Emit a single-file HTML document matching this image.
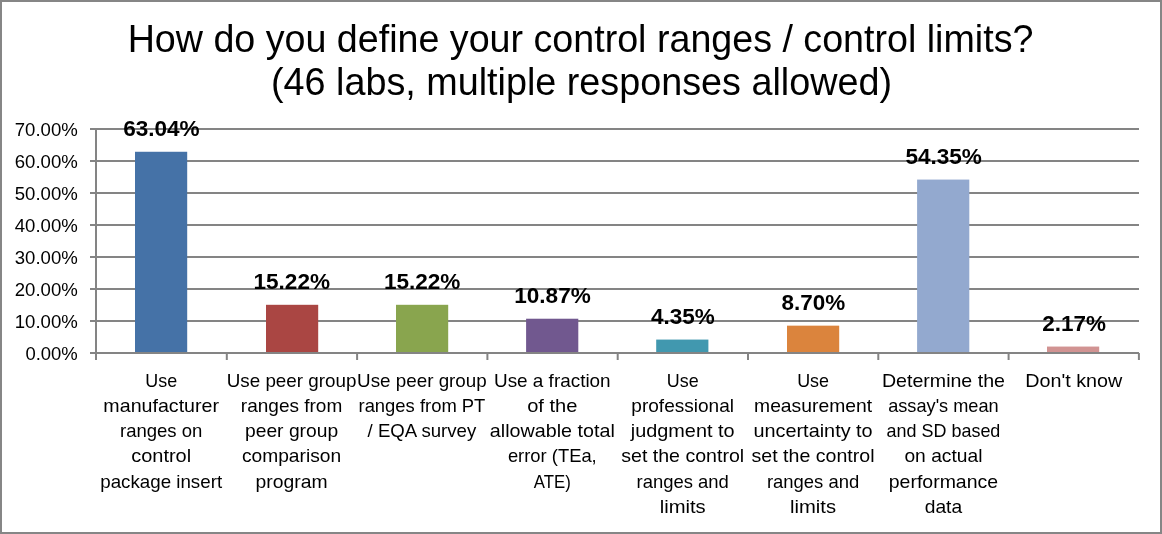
<!DOCTYPE html>
<html lang="en"><head><meta charset="utf-8"><title>How do you define your control ranges / control limits?</title>
<style>
html,body{margin:0;padding:0;background:#fff;}
body{width:1162px;height:534px;overflow:hidden;}
svg{display:block;}
text{font-family:"Liberation Sans",sans-serif;fill:#000;}
.t{font-size:39.6px;}
.a{font-size:18.5px;}
.c{font-size:18.5px;}
.d{font-size:22.8px;font-weight:bold;}
</style></head><body>
<svg width="1162" height="534" viewBox="0 0 1162 534">
<rect x="0" y="0" width="1162" height="534" fill="#fff"/>
<rect x="1" y="1" width="1160" height="532" fill="none" stroke="#868686" stroke-width="2"/>
<text class="t" x="127.7" y="52.4" textLength="905.7" lengthAdjust="spacingAndGlyphs">How do you define your control ranges / control limits?</text>
<text class="t" x="271.0" y="95.2" textLength="621.0" lengthAdjust="spacingAndGlyphs">(46 labs, multiple responses allowed)</text>
<g stroke="#848484" stroke-width="2" fill="none">
<line x1="90" y1="321" x2="1139" y2="321"/>
<line x1="90" y1="289" x2="1139" y2="289"/>
<line x1="90" y1="257" x2="1139" y2="257"/>
<line x1="90" y1="225" x2="1139" y2="225"/>
<line x1="90" y1="193" x2="1139" y2="193"/>
<line x1="90" y1="161" x2="1139" y2="161"/>
<line x1="90" y1="129" x2="1139" y2="129"/>
</g>
<rect x="135.00" y="151.77" width="52.20" height="201.73" fill="#4572A7"/>
<rect x="266.00" y="304.80" width="52.20" height="48.70" fill="#AA4643"/>
<rect x="396.00" y="304.80" width="52.20" height="48.70" fill="#89A54E"/>
<rect x="526.10" y="318.72" width="52.20" height="34.78" fill="#71588F"/>
<rect x="656.20" y="339.58" width="52.20" height="13.92" fill="#4198AF"/>
<rect x="787.00" y="325.66" width="52.20" height="27.84" fill="#DB843D"/>
<rect x="917.10" y="179.58" width="52.20" height="173.92" fill="#93A9CF"/>
<rect x="1047.00" y="346.56" width="52.20" height="6.94" fill="#D19392"/>
<g stroke="#848484" stroke-width="2" fill="none">
<line x1="96" y1="128" x2="96" y2="360"/>
<line x1="90" y1="353" x2="1139" y2="353"/>
<line x1="226.80" y1="353" x2="226.80" y2="360"/>
<line x1="357.10" y1="353" x2="357.10" y2="360"/>
<line x1="487.40" y1="353" x2="487.40" y2="360"/>
<line x1="617.70" y1="353" x2="617.70" y2="360"/>
<line x1="748.00" y1="353" x2="748.00" y2="360"/>
<line x1="878.30" y1="353" x2="878.30" y2="360"/>
<line x1="1008.60" y1="353" x2="1008.60" y2="360"/>
<line x1="1138.90" y1="353" x2="1138.90" y2="360"/>
</g>
<text class="a" x="25.43" y="359.60" textLength="52.37" lengthAdjust="spacingAndGlyphs">0.00%</text>
<text class="a" x="14.76" y="327.60" textLength="63.04" lengthAdjust="spacingAndGlyphs">10.00%</text>
<text class="a" x="14.76" y="295.60" textLength="63.04" lengthAdjust="spacingAndGlyphs">20.00%</text>
<text class="a" x="14.76" y="263.60" textLength="63.04" lengthAdjust="spacingAndGlyphs">30.00%</text>
<text class="a" x="14.76" y="231.60" textLength="63.04" lengthAdjust="spacingAndGlyphs">40.00%</text>
<text class="a" x="14.76" y="199.60" textLength="63.04" lengthAdjust="spacingAndGlyphs">50.00%</text>
<text class="a" x="14.76" y="167.60" textLength="63.04" lengthAdjust="spacingAndGlyphs">60.00%</text>
<text class="a" x="14.76" y="135.60" textLength="63.04" lengthAdjust="spacingAndGlyphs">70.00%</text>
<text class="d" x="123.14" y="135.97" textLength="76.49" lengthAdjust="spacingAndGlyphs">63.04%</text>
<text class="d" x="253.52" y="289.00" textLength="76.49" lengthAdjust="spacingAndGlyphs">15.22%</text>
<text class="d" x="383.89" y="289.00" textLength="76.49" lengthAdjust="spacingAndGlyphs">15.22%</text>
<text class="d" x="514.27" y="302.92" textLength="76.49" lengthAdjust="spacingAndGlyphs">10.87%</text>
<text class="d" x="651.05" y="323.78" textLength="63.67" lengthAdjust="spacingAndGlyphs">4.35%</text>
<text class="d" x="781.43" y="309.86" textLength="63.67" lengthAdjust="spacingAndGlyphs">8.70%</text>
<text class="d" x="905.39" y="163.78" textLength="76.49" lengthAdjust="spacingAndGlyphs">54.35%</text>
<text class="d" x="1042.18" y="330.76" textLength="63.67" lengthAdjust="spacingAndGlyphs">2.17%</text>
<text class="c" x="145.27" y="386.50" textLength="31.83" lengthAdjust="spacingAndGlyphs">Use</text>
<text class="c" x="103.38" y="411.80" textLength="115.61" lengthAdjust="spacingAndGlyphs">manufacturer</text>
<text class="c" x="119.98" y="437.10" textLength="82.42" lengthAdjust="spacingAndGlyphs">ranges on</text>
<text class="c" x="131.21" y="462.40" textLength="59.95" lengthAdjust="spacingAndGlyphs">control</text>
<text class="c" x="100.28" y="487.70" textLength="121.82" lengthAdjust="spacingAndGlyphs">package insert</text>
<text class="c" x="226.74" y="386.50" textLength="129.65" lengthAdjust="spacingAndGlyphs">Use peer group</text>
<text class="c" x="240.88" y="411.80" textLength="101.37" lengthAdjust="spacingAndGlyphs">ranges from</text>
<text class="c" x="245.01" y="437.10" textLength="93.11" lengthAdjust="spacingAndGlyphs">peer group</text>
<text class="c" x="241.98" y="462.40" textLength="99.16" lengthAdjust="spacingAndGlyphs">comparison</text>
<text class="c" x="255.56" y="487.70" textLength="72.01" lengthAdjust="spacingAndGlyphs">program</text>
<text class="c" x="357.11" y="386.50" textLength="129.65" lengthAdjust="spacingAndGlyphs">Use peer group</text>
<text class="c" x="358.51" y="411.80" textLength="126.86" lengthAdjust="spacingAndGlyphs">ranges from PT</text>
<text class="c" x="367.62" y="437.10" textLength="108.63" lengthAdjust="spacingAndGlyphs">/ EQA survey</text>
<text class="c" x="494.01" y="386.50" textLength="116.61" lengthAdjust="spacingAndGlyphs">Use a fraction</text>
<text class="c" x="527.18" y="411.80" textLength="50.26" lengthAdjust="spacingAndGlyphs">of the</text>
<text class="c" x="489.85" y="437.10" textLength="124.93" lengthAdjust="spacingAndGlyphs">allowable total</text>
<text class="c" x="507.89" y="462.40" textLength="88.85" lengthAdjust="spacingAndGlyphs">error (TEa,</text>
<text class="c" x="533.81" y="487.70" textLength="37.01" lengthAdjust="spacingAndGlyphs">ATE)</text>
<text class="c" x="666.77" y="386.50" textLength="31.83" lengthAdjust="spacingAndGlyphs">Use</text>
<text class="c" x="631.35" y="411.80" textLength="102.67" lengthAdjust="spacingAndGlyphs">professional</text>
<text class="c" x="630.82" y="437.10" textLength="103.73" lengthAdjust="spacingAndGlyphs">judgment to</text>
<text class="c" x="621.22" y="462.40" textLength="122.94" lengthAdjust="spacingAndGlyphs">set the control</text>
<text class="c" x="636.52" y="487.70" textLength="92.34" lengthAdjust="spacingAndGlyphs">ranges and</text>
<text class="c" x="659.67" y="513.00" textLength="46.04" lengthAdjust="spacingAndGlyphs">limits</text>
<text class="c" x="797.15" y="386.50" textLength="31.83" lengthAdjust="spacingAndGlyphs">Use</text>
<text class="c" x="754.07" y="411.80" textLength="117.99" lengthAdjust="spacingAndGlyphs">measurement</text>
<text class="c" x="753.43" y="437.10" textLength="119.26" lengthAdjust="spacingAndGlyphs">uncertainty to</text>
<text class="c" x="751.59" y="462.40" textLength="122.94" lengthAdjust="spacingAndGlyphs">set the control</text>
<text class="c" x="766.89" y="487.70" textLength="92.34" lengthAdjust="spacingAndGlyphs">ranges and</text>
<text class="c" x="790.04" y="513.00" textLength="46.04" lengthAdjust="spacingAndGlyphs">limits</text>
<text class="c" x="881.94" y="386.50" textLength="122.99" lengthAdjust="spacingAndGlyphs">Determine the</text>
<text class="c" x="888.18" y="411.80" textLength="110.51" lengthAdjust="spacingAndGlyphs">assay&#39;s mean</text>
<text class="c" x="886.50" y="437.10" textLength="113.88" lengthAdjust="spacingAndGlyphs">and SD based</text>
<text class="c" x="904.44" y="462.40" textLength="77.99" lengthAdjust="spacingAndGlyphs">on actual</text>
<text class="c" x="888.78" y="487.70" textLength="109.31" lengthAdjust="spacingAndGlyphs">performance</text>
<text class="c" x="924.75" y="513.00" textLength="37.38" lengthAdjust="spacingAndGlyphs">data</text>
<text class="c" x="1025.27" y="386.50" textLength="97.09" lengthAdjust="spacingAndGlyphs">Don&#39;t know</text>
</svg>
</body></html>
